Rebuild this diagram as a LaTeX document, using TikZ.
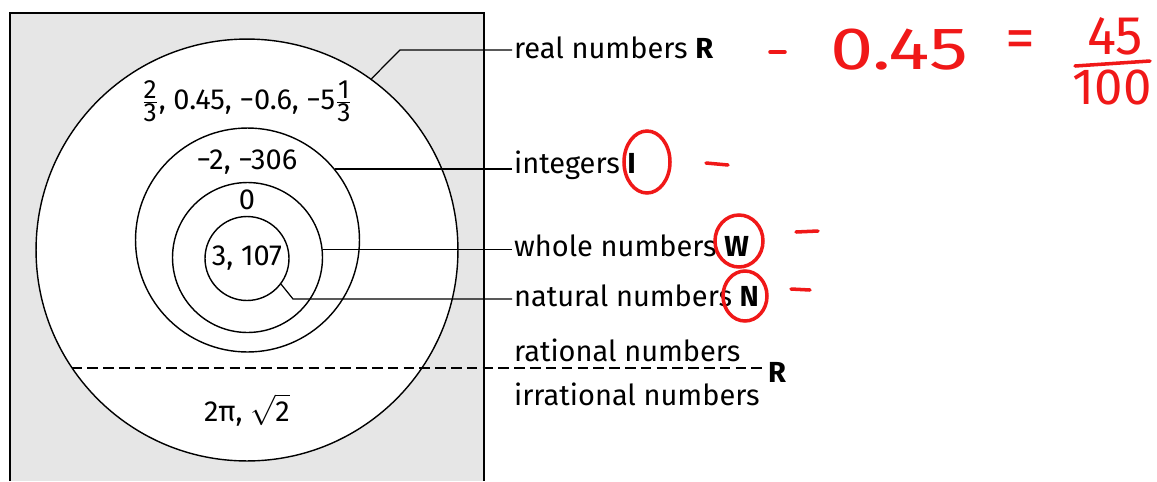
\documentclass[tikz,border=0pt]{standalone}
\usepackage{amsmath}
\usepackage{fontspec}
\setmainfont{Fira Sans}
\usetikzlibrary{positioning}
\definecolor{boxgray}{HTML}{E6E6E6}
\definecolor{penred}{HTML}{F01818}
\newcommand{\numfrac}[2]{\ensuremath{\genfrac{}{}{0.5pt}{}{\hbox{\fontsize{15}{15}\selectfont #1}}{\hbox{\fontsize{15}{15}\selectfont #2}}}}

\begin{document}
\begin{tikzpicture}[x=0.02cm,y=-0.02cm,
  ring/.style={draw,circle,line width=0.8pt,inner sep=0pt},
  setlbl/.style={anchor=west,inner sep=1pt,font=\fontsize{16.5}{19}\selectfont},
  val/.style={inner sep=0pt,font=\fontsize{16.5}{19}\selectfont},
  lead/.style={line width=0.7pt},
  pen/.style={text=penred,inner sep=0pt},
  penmark/.style={draw=penred,line width=2pt,line cap=round}]
\useasboundingbox (0,0) rectangle (1157,481);
% gray box, open at the bottom
\fill[boxgray] (10,13) rectangle (484,481);
\draw[line width=1.2pt] (10,481) -- (10,13) -- (484,13) -- (484,481);

% nested sets
\node[ring,fill=white,minimum size=8.44cm] (real) at (247,250) {};
\node[ring,minimum size=4.48cm] (int) at (247.5,240) {};
\node[ring,minimum size=3.0cm] (whole) at (247.5,257.5) {};
\node[ring,minimum size=1.68cm] (nat) at (247,258.5) {};

% members
\node[val] (vQ) at (247,101) {\numfrac{2}{3}, 0.45, −0.6, −5\numfrac{1}{3}};
\node[val] (vI) at (247,162) {−2, −306};
\node[val] (vW) at (247,200) {0};
\node[val] (vN) at (247,258) {3, 107};
\node[val] (vIrr) at (247,410) {2π, $\sqrt{\text{2}}$};

% labels
\node[setlbl] (lR) at (512,48) {real numbers \textbf{R}};
\node[setlbl] (lI) at (512,165) {integers \textbf{I}};
\node[setlbl] (lW) at (512,246) {whole numbers \textbf{W}};
\node[setlbl] (lN) at (512,296) {natural numbers \textbf{N}};
\node[setlbl] (lRat) at (512,350) {rational numbers};
\node[setlbl] (lIrr) at (512,394) {irrational numbers};
\node[setlbl] (lRR) at (766,372) {\textbf{R}};

% leaders
\coordinate (kR) at (400,50);
\coordinate (kN) at (293,299);
\draw[lead] (real.54) -- (kR) -- (kR -| lR.west);
\draw[lead] (int.39) -- (int.39 -| lI.west);
\draw[lead] (whole.6) -- (whole.6 -| lW.west);
\draw[lead] (nat.-37) -- (kN) -- (kN -| lN.west);
\draw[line width=1pt,dash pattern=on 6pt off 3pt] (real.214.7) -- (real.214.7 -| lRR.west);

% red pen notes
\node[pen,anchor=west,font=\fontsize{34}{36}\selectfont] (p045) at (830,50) {\scalebox{1.3}[1]{0.45}};
\node[pen,font=\fontsize{34}{36}\selectfont] (peq) at (1020,45) {=};
\node[pen,font=\fontsize{31}{33}\selectfont] (p45) at (1115,36) {45};
\node[pen,font=\fontsize{29}{31}\selectfont] (p100) at (1112,88) {100};
\draw[penmark] (1075,66) -- (1150,61);
\draw[penmark] (770,52) -- (785,52);
\draw[penmark] (706,163) -- (728,165);
\draw[penmark] (796,232) -- (818,231);
\draw[penmark] (791,289) -- (810,290);
\draw[penmark] (647,162) ellipse [x radius=23, y radius=31];
\draw[penmark] (739,241) ellipse [x radius=24, y radius=26];
\draw[penmark] (745,296) ellipse [x radius=22, y radius=25];
\end{tikzpicture}
\end{document}
